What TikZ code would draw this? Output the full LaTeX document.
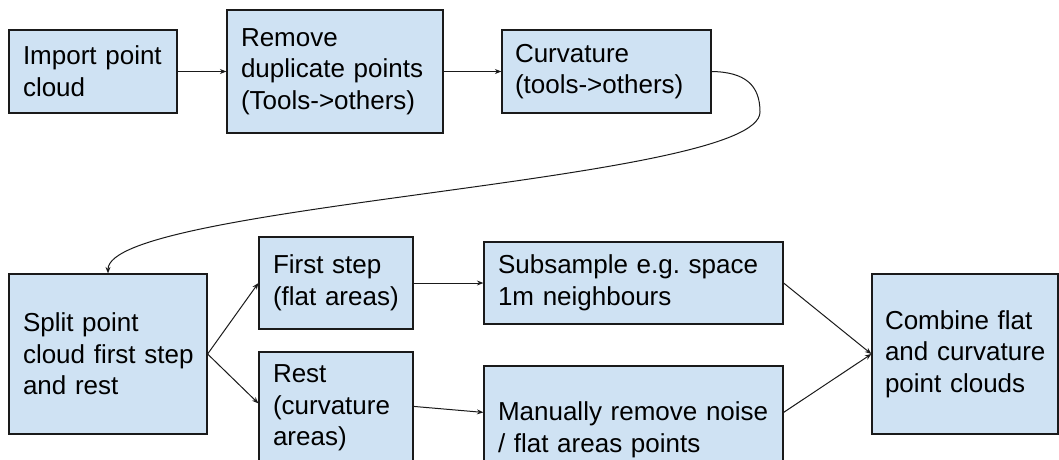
\documentclass[tikz,border=0pt]{standalone}
\usepackage{fontspec}
\setmainfont{Liberation Sans}
\usetikzlibrary{arrows.meta,calc}
\definecolor{boxblue}{HTML}{CFE2F3}
\definecolor{edge}{HTML}{1A1A1A}
\newcommand{\boxfont}{\fontsize{26}{31.6}\selectfont\frenchspacing}
\tikzset{
  box/.style={draw=edge, fill=boxblue, line width=1.2pt, inner xsep=14pt, inner ysep=0pt,
              align=left, font=\boxfont},
  conn/.style={draw=edge, line width=1pt, -{Stealth[length=6.5pt,width=5pt]}}
}
\begin{document}
\begin{tikzpicture}[x=1pt,y=-1pt]
\useasboundingbox (0,0) rectangle (1059,459);
\begin{scope}
\clip (0,0) rectangle (1059,459);
\node[box, minimum width=168pt, minimum height=83pt, text width=140pt] (imp) at (93,71.5)
  {\mbox{Import point}\\\mbox{cloud}};
\node[box, minimum width=216pt, minimum height=123pt, text width=188pt] (rem) at (335,71.5)
  {\mbox{Remove}\\\mbox{duplicate points}\\\mbox{(Tools->others)}};
\node[box, minimum width=209pt, minimum height=83pt, text width=183pt, inner xsep=13pt] (cur) at (606.5,71.5)
  {\mbox{Curvature}\\\mbox{(tools->others)}};
\node[box, minimum width=198pt, minimum height=160pt, text width=170pt] (split) at (108,354)
  {\mbox{Split point}\\\mbox{cloud first step}\\\mbox{and rest}};
\node[box, minimum width=154pt, minimum height=92pt, text width=126pt] (first) at (336,283)
  {\mbox{First step}\\\mbox{(flat areas)}};
\node[box, minimum width=154pt, minimum height=112pt, text width=126pt] (rest) at (336,408)
  {\mbox{Rest}\\\mbox{(curvature}\\\mbox{areas)}};
\node[box, minimum width=299pt, minimum height=82pt, text width=271pt] (sub) at (633.5,283)
  {\mbox{Subsample e.g. space}\\\mbox{1m neighbours}};
\node[box, minimum width=299pt, minimum height=128pt, text width=271pt] (man) at (633.5,430)
  {\mbox{Manually remove noise}\\\mbox{/ flat areas points}};
\node[box, minimum width=186pt, minimum height=160pt, text width=160pt, inner xsep=13pt] (comb) at (965,354)
  {\mbox{Combine flat}\\\mbox{and curvature}\\\mbox{point clouds}};
\end{scope}
\coordinate (bend) at (760,112);
\draw[conn] (imp.east) -- (rem.west);
\draw[conn] (rem.east) -- (cur.west);
\draw[conn] (cur.east) .. controls (745,72) and (760,85) .. (bend)
  .. controls (760,182) and (108,204) .. (split.north);
\draw[conn] (split.east) -- (first.west);
\draw[conn] (split.east) -- ([yshift=-52pt]rest.north west);
\draw[conn] (first.east) -- (sub.west);
\draw[conn] ([yshift=-55pt]rest.north east) -- ([yshift=-47pt]man.north west);
\draw[conn] (sub.east) -- (comb.west);
\draw[conn] ([yshift=-47pt]man.north east) -- (comb.west);
\end{tikzpicture}
\end{document}
